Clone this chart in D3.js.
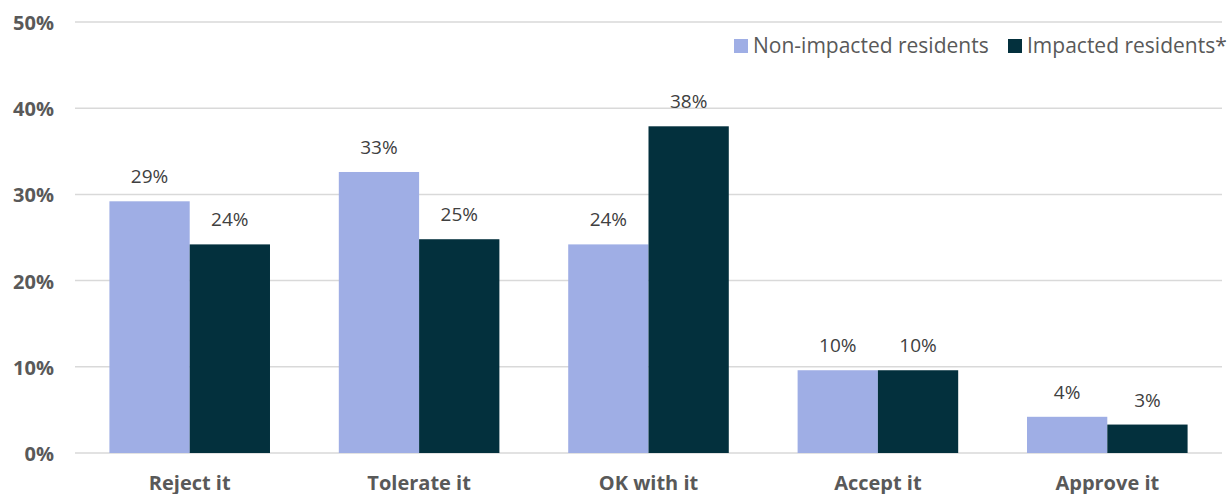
<!DOCTYPE html>
<html>
<head>
<meta charset="utf-8">
<script src="https://cdn.jsdelivr.net/npm/d3@7"></script>
<style>
  html, body { margin: 0; padding: 0; background: #fff; }
  svg { display: block; }
  text { font-family: "Open Sans", "Noto Sans", sans-serif; }
</style>
</head>
<body>
<svg id="chart" width="1231" height="494"></svg>
<script>
const categories = ["Reject it", "Tolerate it", "OK with it", "Accept it", "Approve it"];
const seriesNames = ["Non-impacted residents", "Impacted residents*"];
const nonImpacted = [0.292, 0.326, 0.242, 0.096, 0.042];
const impacted = [0.242, 0.248, 0.379, 0.096, 0.033];
const yTicks = [0, 0.1, 0.2, 0.3, 0.4, 0.5];
const colors = ["#9FAEE5", "#03303D"];

const svg = d3.select("#chart");
const margin = { left: 75, right: 9, top: 22, bottom: 41 };
const width = 1231, height = 494;

const x = d3.scaleBand()
  .domain(categories)
  .range([margin.left, width - margin.right])
  .paddingInner(0.3)
  .paddingOuter(0.15);

const xInner = d3.scaleBand()
  .domain(seriesNames)
  .range([0, x.bandwidth()]);

const y = d3.scaleLinear()
  .domain([0, 0.5])
  .range([height - margin.bottom, margin.top]);

const fmt = d3.format(".0%");

// horizontal gridlines
svg.append("g")
  .selectAll("line")
  .data(yTicks)
  .join("line")
  .attr("x1", margin.left)
  .attr("x2", width - margin.right)
  .attr("y1", d => y(d))
  .attr("y2", d => y(d))
  .attr("stroke", "#d9d9d9")
  .attr("stroke-width", 1.5);

// y axis labels
const yAxis = d3.axisLeft(y).tickValues(yTicks).tickFormat(fmt).tickSize(0).tickPadding(0);
const gy = svg.append("g").attr("transform", `translate(54,1)`).call(yAxis);
gy.select(".domain").remove();
gy.selectAll("text")
  .attr("font-family", "'Open Sans', sans-serif")
  .attr("font-size", 20)
  .attr("font-weight", "bold")
  .attr("fill", "#595959");

// x axis labels
const xAxis = d3.axisBottom(x).tickSize(0).tickPadding(0);
const gx = svg.append("g").attr("transform", `translate(0,${height - margin.bottom + 23})`).call(xAxis);
gx.select(".domain").remove();
gx.selectAll("text")
  .attr("font-family", "'Open Sans', sans-serif")
  .attr("font-size", 20)
  .attr("font-weight", "bold")
  .attr("fill", "#595959");

const rows = categories.map((c, i) => ({
  category: c,
  values: [
    { series: seriesNames[0], value: nonImpacted[i], color: colors[0] },
    { series: seriesNames[1], value: impacted[i], color: colors[1] }
  ]
}));

const groups = svg.append("g")
  .selectAll("g")
  .data(rows)
  .join("g")
  .attr("transform", d => `translate(${x(d.category)},0)`);

groups.selectAll("rect")
  .data(d => d.values)
  .join("rect")
  .attr("x", d => xInner(d.series))
  .attr("width", xInner.bandwidth())
  .attr("y", d => y(d.value))
  .attr("height", d => y(0) - y(d.value))
  .attr("fill", d => d.color);

groups.selectAll("text.value")
  .data(d => d.values)
  .join("text")
  .attr("class", "value")
  .attr("x", d => xInner(d.series) + xInner.bandwidth() / 2)
  .attr("y", d => y(d.value) - 18)
  .attr("text-anchor", "middle")
  .attr("font-size", 19)
  .attr("fill", "#404040")
  .text(d => fmt(d.value));

// legend
const legend = svg.append("g");
const legendItems = [
  { name: seriesNames[0], color: colors[0], x: 734 },
  { name: seriesNames[1], color: colors[1], x: 1008 }
];
const li = legend.selectAll("g").data(legendItems).join("g")
  .attr("transform", d => `translate(${d.x},53)`);
li.append("rect").attr("x", 0).attr("y", -14).attr("width", 14).attr("height", 14).attr("fill", d => d.color);
li.append("text")
  .attr("x", 19)
  .attr("y", 0)
  .attr("font-size", 21)
  .attr("fill", "#595959")
  .text(d => d.name);
</script>
</body>
</html>
